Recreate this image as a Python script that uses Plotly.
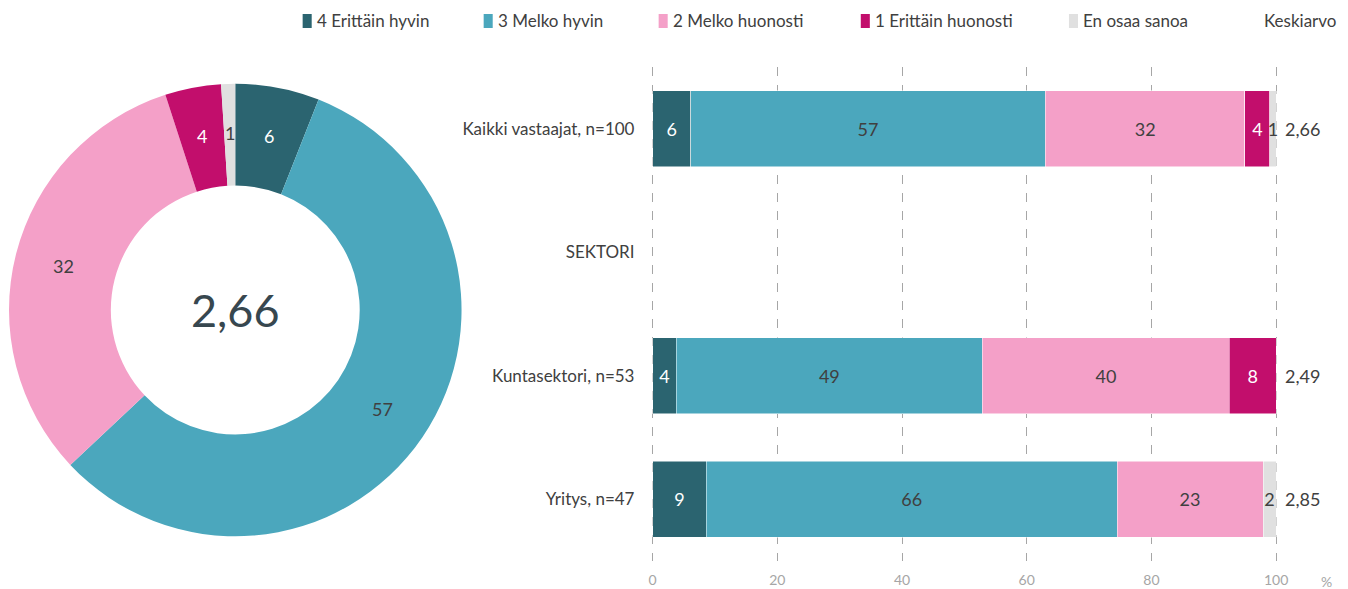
import math
import plotly.graph_objects as go

W, H = 1348, 589
# observed page mapping: screen_x = OX + SX * paper_x ; screen_y = OY + H * (1 - paper_y)
OX, SX = 12.0, 1330.5
OY = 8.0

series_names = ["4 Erittäin hyvin", "3 Melko hyvin", "2 Melko huonosti", "1 Erittäin huonosti", "En osaa sanoa"]
series_colors = ["#2B6470", "#4BA7BD", "#F4A0C8", "#C20E6C", "#E0E0E0"]
text_colors = ["#FFFFFF", "#404040", "#404040", "#FFFFFF", "#404040"]

categories = ["Kaikki vastaajat, n=100", "SEKTORI", "Kuntasektori, n=53", "Yritys, n=47"]
bar_values = {
    "4 Erittäin hyvin":    [6.1, None, 3.8, 8.6],
    "3 Melko hyvin":       [56.9, None, 49.1, 65.9],
    "2 Melko huonosti":    [32.0, None, 39.6, 23.4],
    "1 Erittäin huonosti": [4.0, None, 7.5, None],
    "En osaa sanoa":       [1.0, None, None, 2.1],
}
means = [2.66, None, 2.49, 2.85]

donut_values = [6, 57, 32, 4, 1]
donut_center = 2.66

x_ticks = [0, 20, 40, 60, 80, 100]


def px(x):
    return (x - OX) / SX


def py(y):
    return 1 - (y - OY) / H


def fi(v):
    return f"{v:.2f}".replace(".", ",")


FONT = "Lato"
DARK = "#404040"
TXT = 17
NUM = 18

fig = go.Figure()

# Donut
HOLE = 0.55
pie_left, pie_right, pie_top, pie_bottom = 9, 465, 82, 538
cx_px = (pie_left + pie_right) / 2
cy_px = (pie_top + pie_bottom) / 2
pie_dom_x = [0, min(1, 2 * px(cx_px))]
pie_dom_y = [py(pie_bottom), py(pie_top)]
fig.add_trace(go.Pie(
    values=donut_values,
    labels=series_names,
    marker=dict(colors=series_colors, line=dict(width=0)),
    hole=HOLE,
    sort=False,
    direction="clockwise",
    rotation=0,
    textinfo="none",
    domain=dict(x=pie_dom_x, y=pie_dom_y),
    showlegend=False,
    hoverinfo="skip",
))

# Stacked bars
for name, color, tc in zip(series_names, series_colors, text_colors):
    vals = bar_values[name]
    fig.add_trace(go.Bar(
        y=categories,
        x=vals,
        name=name,
        orientation="h",
        marker=dict(color=color, line=dict(width=0.5, color="#FFFFFF")),
        width=0.615,
        text=["" if v is None else f"{round(v):d}" for v in vals],
        textposition="inside",
        insidetextanchor="middle",
        textangle=0,
        textfont=dict(family=FONT, size=NUM, color=tc),
        showlegend=False,
        hoverinfo="skip",
        cliponaxis=False,
    ))

annotations = []

# Donut slice labels at mid-angle / mid-radius of each slice
R = (pie_right - pie_left) / 2
r_mid = R * (1 + HOLE) / 2
total = sum(donut_values)
cum = 0
for v, tc in zip(donut_values, text_colors):
    frac = (cum + v / 2) / total
    cum += v
    th = 2 * math.pi * frac
    lx = cx_px + r_mid * math.sin(th)
    ly = cy_px - r_mid * math.cos(th)
    annotations.append(dict(
        x=px(lx), y=py(ly), xref="paper", yref="paper", text=str(v), showarrow=False,
        xanchor="center", yanchor="middle", font=dict(family=FONT, size=NUM, color=tc),
    ))

# Center of donut
annotations.append(dict(
    x=px(cx_px), y=py(cy_px),
    xref="paper", yref="paper", text=fi(donut_center), showarrow=False,
    font=dict(family=FONT, size=45, color="#37474F"), xanchor="center", yanchor="middle",
))
# Means
for cat, m in zip(categories, means):
    if m is None:
        continue
    annotations.append(dict(
        x=100, y=cat, xref="x", yref="y", text=fi(m), showarrow=False,
        xanchor="left", xshift=7, font=dict(family=FONT, size=NUM, color=DARK),
    ))
# % label
annotations.append(dict(
    x=px(1322), y=py(581), xref="paper", yref="paper", text="%", showarrow=False,
    font=dict(family=FONT, size=14, color="#A6A6A6"), xanchor="center", yanchor="middle",
))

# Manual legend
legend_marker_x = [304, 484, 658, 859, 1066]
shapes = []
for name, color, lx in zip(series_names, series_colors, legend_marker_x):
    shapes.append(dict(
        type="rect", xref="paper", yref="paper",
        x0=px(lx), x1=px(lx + 9), y0=py(28), y1=py(14),
        fillcolor=color, line=dict(width=0),
    ))
    annotations.append(dict(
        x=px(lx + 12), y=py(21), xref="paper", yref="paper", text=name, showarrow=False,
        xanchor="left", yanchor="middle", font=dict(family=FONT, size=TXT, color=DARK),
    ))
annotations.append(dict(
    x=px(1334), y=py(21), xref="paper", yref="paper", text="Keskiarvo", showarrow=False,
    xanchor="right", yanchor="middle", font=dict(family=FONT, size=TXT, color=DARK),
))

# x axis: 0 at ~652px, 100 at ~1275px; pad the range a little so edge gridlines are drawn
AX0, AX100 = 652, 1272
PAD = 0.5
unit = (AX100 - AX0) / 100.0

fig.update_layout(
    width=W, height=H, autosize=False,
    margin=dict(l=0, r=0, t=0, b=0),
    paper_bgcolor="#FFFFFF", plot_bgcolor="#FFFFFF",
    barmode="stack",
    showlegend=False,
    uniformtext=dict(mode="show", minsize=NUM),
    font=dict(family=FONT, color=DARK),
    xaxis=dict(
        domain=[px(AX0 - PAD * unit), px(AX100 + PAD * unit)], range=[-PAD, 100 + PAD],
        tickvals=x_ticks, ticktext=[str(t) for t in x_ticks],
        showgrid=True, gridcolor="#A6A6A6", griddash="dash", gridwidth=1,
        zeroline=False, showline=False, ticks="",
        tickfont=dict(family=FONT, size=14, color="#A6A6A6"),
        ticklabelstandoff=9, fixedrange=True,
    ),
    yaxis=dict(
        domain=[py(561), py(67)],
        categoryorder="array", categoryarray=categories,
        range=[len(categories) - 0.5, -0.5],
        showgrid=False, zeroline=False, showline=False, ticks="",
        tickfont=dict(family=FONT, size=TXT, color=DARK),
        ticklabelstandoff=14, fixedrange=True,
    ),
    annotations=annotations,
    shapes=shapes,
)

fig.write_html("out.html")
